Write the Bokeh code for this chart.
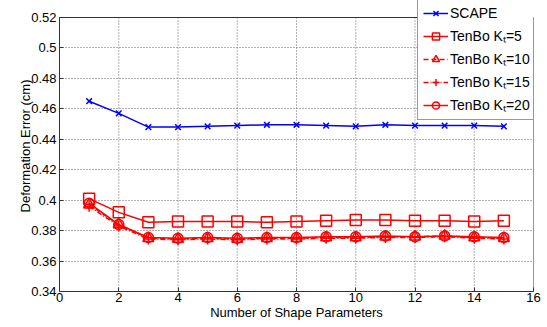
from bokeh.plotting import figure
from bokeh.models import Legend, LegendItem, FixedTicker, Range1d
from bokeh.embed import file_html
from bokeh.resources import INLINE

x = list(range(1, 16))
scape = [0.465, 0.457, 0.448, 0.448, 0.4485, 0.449, 0.4495, 0.4495, 0.449, 0.4485, 0.4495, 0.449, 0.449, 0.449, 0.4485]
k5 = [0.401, 0.392, 0.3855, 0.386, 0.386, 0.386, 0.3855, 0.386, 0.3865, 0.387, 0.387, 0.3865, 0.3865, 0.386, 0.3865]
k10 = [0.397, 0.384, 0.375, 0.3745, 0.375, 0.3745, 0.375, 0.375, 0.3755, 0.3755, 0.376, 0.376, 0.3765, 0.3755, 0.375]
k15 = [0.396, 0.383, 0.3745, 0.374, 0.3745, 0.374, 0.3745, 0.3745, 0.375, 0.375, 0.3755, 0.3755, 0.376, 0.375, 0.3745]
k20 = [0.398, 0.384, 0.3755, 0.375, 0.3755, 0.375, 0.3755, 0.3755, 0.376, 0.376, 0.3765, 0.376, 0.3765, 0.376, 0.3755]
labels = ["SCAPE", "TenBo K\u209c=5", "TenBo K\u209c=10", "TenBo K\u209c=15", "TenBo K\u209c=20"]
xticks = list(range(0, 17, 2))
yticks = [0.34, 0.36, 0.38, 0.40, 0.42, 0.44, 0.46, 0.48, 0.50, 0.52]
ytick_labels = ["0.34", "0.36", "0.38", "0.4", "0.42", "0.44", "0.46", "0.48", "0.5", "0.52"]

FONT = "Liberation Sans"
X0, X1 = xticks[0], xticks[-1]
Y0, Y1 = yticks[0], yticks[-1]
# frame spans the full height above the axis so the legend can sit above the box
FRAME_H = 291
BOX_H = 274
y_top = Y0 + (Y1 - Y0) * FRAME_H / BOX_H

p = figure(width=547, height=327, output_backend="svg", toolbar_location=None,
           x_range=Range1d(X0, X1), y_range=Range1d(Y0, y_top),
           min_border_left=59, min_border_right=14, min_border_top=0, min_border_bottom=36)
p.outline_line_color = None

for ax in (p.xaxis[0], p.yaxis[0]):
    ax.major_tick_in = 4
    ax.major_tick_out = 0
    ax.minor_tick_line_color = None
    ax.axis_line_color = "#333333"
    ax.major_tick_line_color = "#333333"
    ax.major_label_text_font = FONT
    ax.major_label_text_font_size = "13px"
    ax.major_label_text_color = "black"
    ax.axis_label_text_font = FONT
    ax.axis_label_text_font_size = "13px"
    ax.axis_label_text_font_style = "normal"
    ax.axis_label_text_color = "black"

p.yaxis.bounds = (Y0, Y1)
p.xaxis.ticker = FixedTicker(ticks=xticks)
p.yaxis.ticker = FixedTicker(ticks=yticks)
p.yaxis.major_label_overrides = {t: l for t, l in zip(yticks, ytick_labels)}
p.xaxis.axis_label = "Number of Shape Parameters"
p.yaxis.axis_label = "Deformation Error (cm)"
p.xaxis.major_label_standoff = 1
p.yaxis.major_label_standoff = 3
p.xaxis.axis_label_standoff = 0
p.yaxis.axis_label_standoff = -5

grid_color = "#666666"
p.xgrid.visible = False
p.ygrid[0].grid_line_color = grid_color
p.ygrid[0].grid_line_dash = "1 2"
p.ygrid[0].grid_line_width = 1
p.segment(x0=xticks[1:-1], y0=[Y0] * (len(xticks) - 2), x1=xticks[1:-1], y1=[Y1] * (len(xticks) - 2),
          line_color=grid_color, line_dash="1 2", line_width=1)
# box around the axes
p.quad(left=[X0], right=[X1], bottom=[Y0], top=[Y1], fill_color=None,
       line_color="#333333", line_width=1)

blue = "#0000ff"
red = "#ff0000"
items = []
l0 = p.line(x, scape, line_color=blue, line_width=1.5)
m0 = p.scatter(x, scape, marker="x", size=8, line_color=blue, line_width=1.5)
items.append(LegendItem(label=labels[0], renderers=[l0, m0]))

l1 = p.line(x, k5, line_color=red, line_width=1.5)
m1 = p.scatter(x, k5, marker="square", size=11, line_color=red, fill_color=None, line_width=1.5)
items.append(LegendItem(label=labels[1], renderers=[l1, m1]))

l2 = p.line(x, k10, line_color=red, line_width=1.5, line_dash="5 3")
m2 = p.scatter(x, k10, marker="triangle", size=11, line_color=red, fill_color=None, line_width=1.5)
items.append(LegendItem(label=labels[2], renderers=[l2, m2]))

l3 = p.line(x, k15, line_color=red, line_width=1.5, line_dash="5 2 1 2")
m3 = p.scatter(x, k15, marker="cross", size=11, line_color=red, line_width=1.5)
items.append(LegendItem(label=labels[3], renderers=[l3, m3]))

l4 = p.line(x, k20, line_color=red, line_width=1.5)
m4 = p.scatter(x, k20, marker="circle", size=10, line_color=red, fill_color=None, line_width=1.5)
items.append(LegendItem(label=labels[4], renderers=[l4, m4]))

legend = Legend(items=items, location=(358, 171))
legend.label_text_font = FONT
legend.label_text_font_size = "14px"
legend.label_text_color = "black"
legend.label_height = 18
legend.glyph_height = 18
legend.glyph_width = 25
legend.label_standoff = 2
legend.spacing = 4
legend.padding = 5
legend.margin = 0
legend.border_line_color = "#333333"
legend.border_line_width = 1
legend.background_fill_color = "white"
legend.background_fill_alpha = 1
p.add_layout(legend, "center")

open("out.html", "w").write(file_html(p, INLINE))
